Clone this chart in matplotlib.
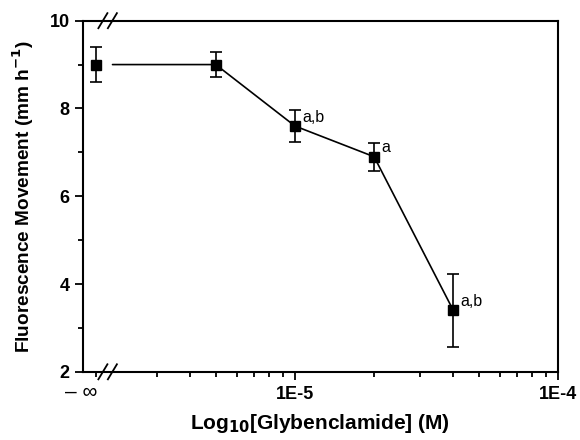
import matplotlib
matplotlib.use('Agg')
import matplotlib.pyplot as plt
from matplotlib.ticker import FixedLocator, FuncFormatter, NullFormatter

plt.rcParams['font.family'] = ['Liberation Sans', 'DejaVu Sans']

# data: first group is the control (no glybenclamide, shown at "-inf")
conc_labels = ['-inf', '5E-6', '1E-5', '2E-5', '4E-5']
concentration = [1.75e-6, 5e-6, 1e-5, 2e-5, 4e-5]   # 1.75e-6 = drawing slot for -inf
movement = [9.0, 9.0, 7.6, 6.9, 3.4]
sem = [0.40, 0.29, 0.36, 0.32, 0.83]
sig_labels = ['', '', 'a,b', 'a', 'a,b']

fig = plt.figure(figsize=(5.8, 4.4), dpi=100)
ax = fig.add_axes([0.143, 0.155, 0.819, 0.798])

ax.errorbar(concentration, movement, yerr=sem, fmt='s', color='black',
            markersize=7.5, capsize=4, elinewidth=1.2, capthick=1.2, zorder=3)
# connecting line, first segment starts after a gap (axis break)
ax.plot(concentration[1:], movement[1:], color='black', lw=1.2, zorder=2)
ax.annotate('', xy=(concentration[1], movement[1]),
            xytext=(concentration[0], movement[0]),
            arrowprops=dict(arrowstyle='-', color='black', lw=1.2,
                            shrinkA=12, shrinkB=0))

for x, y, s in zip(concentration, movement, sig_labels):
    if s:
        ax.annotate(s, (x, y), xytext=(5, 1), textcoords='offset points',
                    fontsize=11.5, va='bottom', ha='left')

ax.set_xscale('log')
ax.set_xlim(10 ** -5.806, 1e-4)
ax.set_ylim(2, 10)

ax.xaxis.set_major_locator(FixedLocator([1e-5, 1e-4]))
ax.xaxis.set_major_formatter(FuncFormatter(lambda v, p: '1E-5' if v < 5e-5 else '1E-4'))
minors = [concentration[0]] + [k * 1e-6 for k in range(3, 10)] + [k * 1e-5 for k in range(2, 10)]
ax.xaxis.set_minor_locator(FixedLocator(minors))
ax.xaxis.set_minor_formatter(NullFormatter())
# label for the control group
ax.text(-0.004, -0.06, '\u2013 \u221e', transform=ax.transAxes,
        ha='center', va='center', fontsize=15)

ax.set_yticks([2, 4, 6, 8, 10])
ax.set_yticks([3, 5, 7, 9], minor=True)

ax.tick_params(which='major', direction='out', length=6, width=1.3,
               labelsize=13)
ax.tick_params(which='minor', direction='out', length=3.5, width=1.3)
for lab in ax.get_xticklabels() + ax.get_yticklabels():
    lab.set_fontweight('bold')
ax.tick_params(axis='x', which='both', pad=4)

for sp in ax.spines.values():
    sp.set_linewidth(1.5)

# axis break marks
for xc in (0.042, 0.062):
    for yc in (0.0, 1.0):
        ax.plot([xc - 0.0095, xc + 0.0095], [yc - 0.0214, yc + 0.0214],
                transform=ax.transAxes, color='black', lw=1.3, clip_on=False)

ax.set_xlabel('Log$_{\\mathbf{10}}$[Glybenclamide] (M)', fontsize=15,
              fontweight='bold', labelpad=7)
ax.set_ylabel('Fluorescence Movement (mm h$^{\\mathbf{-1}}$)', fontsize=13.7,
              fontweight='bold', labelpad=10)

fig.savefig('out.png', dpi=100)
